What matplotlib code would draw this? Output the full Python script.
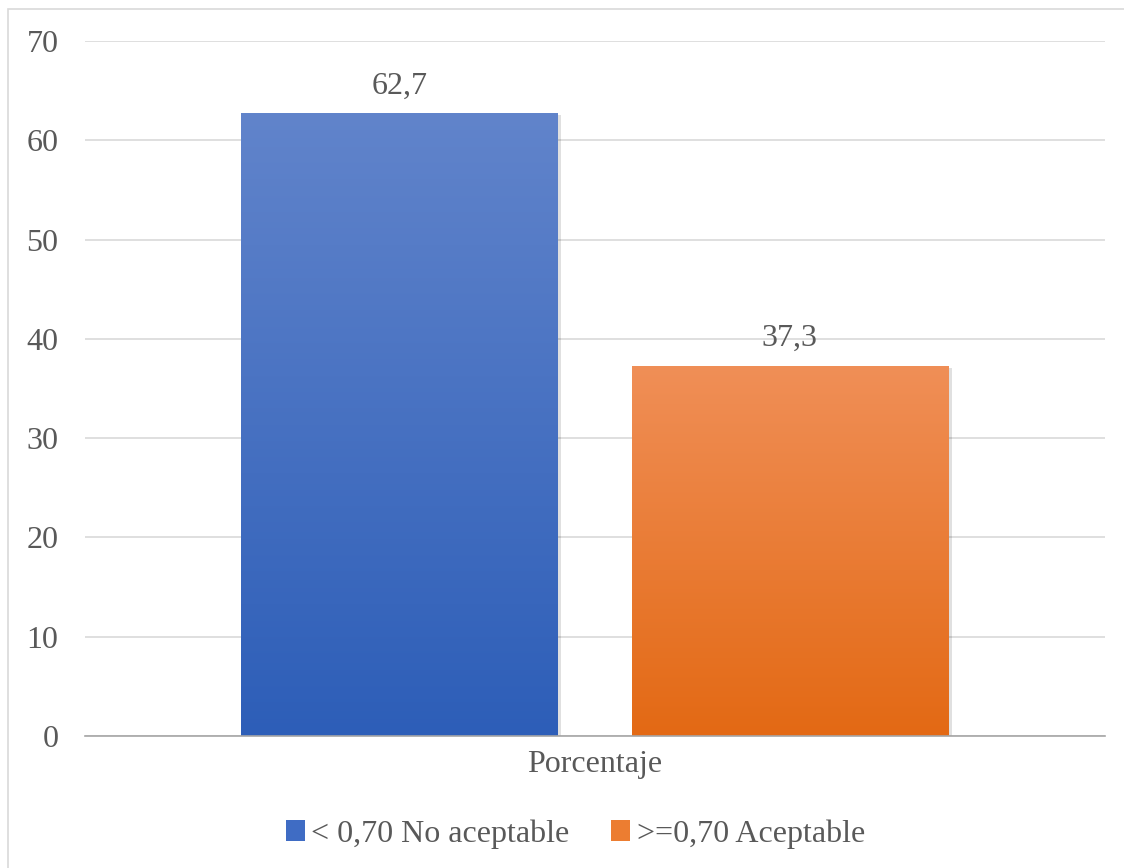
import numpy as np
import matplotlib
matplotlib.use("Agg")
import matplotlib.pyplot as plt
from matplotlib.colors import LinearSegmentedColormap
from matplotlib.patches import Rectangle, Patch

plt.rcParams['font.family'] = ['Liberation Serif', 'DejaVu Serif']

categorias = ['Porcentaje']
series = ['< 0,70 No aceptable', '>=0,70 Aceptable']
valores = [62.7, 37.3]
etiquetas = ['62,7', '37,3']
# colores arriba / abajo del degradado
colores_arriba = ['#6184CB', '#F08F57']
colores_abajo = ['#2D5EB8', '#E36914']
colores_leyenda = ['#3F6CC4', '#EC7D31']

texto = '#595959'

fig = plt.figure(figsize=(11.24, 8.68), dpi=100)
ax = fig.add_axes([85 / 1124, 1 - 736 / 868, 1020 / 1124, 695 / 868])

# marco del gráfico
fig.patches.append(Rectangle((8 / 1124, -0.05), 1.2, 1 - 9 / 868 + 0.05,
                             transform=fig.transFigure, fill=False,
                             edgecolor='#D9D9D9', lw=1.2, zorder=0))

ancho = 0.31
desplaz = [-0.192, 0.191]
x = np.arange(len(categorias))

for i in range(len(series)):
    xi = x[0] + desplaz[i]
    v = valores[i]
    # sombra
    ax.add_patch(Rectangle((xi - ancho / 2 + 0.004, -0.3), ancho, v + 0.1,
                           facecolor='#000000', alpha=0.12, edgecolor='none', zorder=2))
    barra = ax.bar(xi, v, ancho, color=colores_leyenda[i], zorder=3)[0]
    cmap = LinearSegmentedColormap.from_list('g%d' % i, [colores_abajo[i], colores_arriba[i]])
    grad = np.linspace(0, 1, 256).reshape(-1, 1)
    im = ax.imshow(grad, cmap=cmap, origin='lower', aspect='auto',
                   extent=[xi - ancho / 2, xi + ancho / 2, 0, v], zorder=4)
    im.set_clip_path(barra)
    ax.text(xi, v + 1.3, etiquetas[i], ha='center', va='bottom',
            fontsize=23, color=texto)

ax.set_xlim(-0.5, 0.5)
ax.set_ylim(0, 70)
ax.set_yticks(np.arange(0, 71, 10))
ax.set_xticks(x)
ax.set_xticklabels(categorias)
ax.tick_params(axis='both', length=0, labelsize=23, labelcolor=texto)
ax.tick_params(axis='y', pad=19)
ax.tick_params(axis='x', pad=10)
ax.grid(axis='y', color='#D9D9D9', lw=1.2, zorder=0)
ax.set_axisbelow(True)
for s in ['top', 'right', 'left']:
    ax.spines[s].set_visible(False)
ax.spines['bottom'].set_color('#A6A6A6')
ax.spines['bottom'].set_linewidth(1.2)
ax.spines['bottom'].set_zorder(5)

handles = [Patch(facecolor=colores_leyenda[i], label=series[i]) for i in range(len(series))]
fig.legend(handles=handles, loc='center', bbox_to_anchor=(0.512, 1 - 834 / 868),
           ncol=2, frameon=False, fontsize=23, labelcolor=texto,
           handlelength=0.6, handleheight=0.6, handletextpad=0.2, columnspacing=1.3)

fig.savefig('out.png', dpi=100)
